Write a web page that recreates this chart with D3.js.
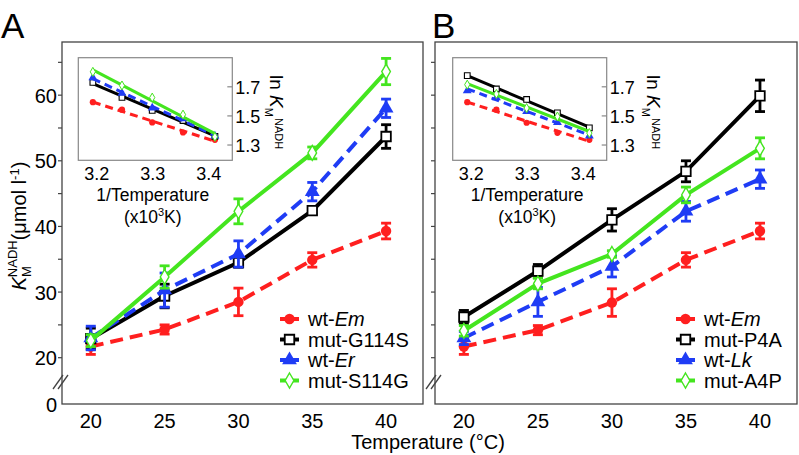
<!DOCTYPE html>
<html><head><meta charset="utf-8">
<script src="https://cdn.jsdelivr.net/npm/d3@7"></script>
<style>body{margin:0;background:#fff}svg{display:block;font-family:"Liberation Sans",Arial,sans-serif}</style>
</head><body><svg id="c" width="799" height="455"></svg>
<script>
// ---------- data ----------
const temps = [20, 25, 30, 35, 40];
const invTemps = [3.411, 3.354, 3.299, 3.245, 3.193];
const xTicks = [20, 25, 30, 35, 40];
const yTickLabels = [0, 20, 30, 40, 50, 60];
const yTicksAll = [20, 25, 30, 35, 40, 45, 50, 55, 60, 65];
const insetXTicks = [3.2, 3.3, 3.4];
const insetYTicks = [1.3, 1.5, 1.7];

// Panel A
const namesA = ["wt-Em", "mut-G114S", "wt-Er", "mut-S114G"];
const wtEmA = [21.7, 24.3, 28.5, 34.9, 39.3];
const wtEmAErr = [1.2, 0.7, 2.1, 1.1, 1.2];
const g114s = [22.9, 29.4, 34.5, 42.4, 53.7];
const g114sErr = [1.6, 1.8, 0.7, 0.5, 1.8];
const wtEr = [23.0, 30.3, 35.8, 45.3, 58.0];
const wtErErr = [1.8, 2.6, 2.0, 1.4, 1.4];
const s114g = [22.6, 32.3, 42.3, 51.2, 63.6];
const s114gErr = [0.9, 1.7, 1.9, 0.9, 2.0];
// inset A (log10 KM)
const lnWtEmA = [1.336, 1.386, 1.455, 1.543, 1.594];
const lnG114s = [1.360, 1.468, 1.538, 1.627, 1.730];
const lnWtEr = [1.362, 1.481, 1.555, 1.656, 1.763];
const lnS114g = [1.356, 1.509, 1.626, 1.709, 1.803];

// Panel B
const namesB = ["wt-Em", "mut-P4A", "wt-Lk", "mut-A4P"];
const wtEmB = [21.7, 24.2, 28.4, 34.9, 39.3];
const wtEmBErr = [1.2, 0.7, 2.1, 1.1, 1.2];
const p4a = [26.2, 33.2, 41.0, 48.4, 59.9];
const p4aErr = [1.0, 1.0, 1.7, 1.6, 2.4];
const wtLk = [23.0, 28.5, 33.9, 42.3, 47.2];
const wtLkErr = [1.0, 2.2, 1.6, 1.5, 1.4];
const a4p = [24.1, 31.3, 35.8, 44.8, 51.9];
const a4pErr = [0.8, 0.8, 0.5, 1.2, 1.6];
// inset B
const lnWtEmB = [1.336, 1.384, 1.453, 1.543, 1.594];
const lnP4a = [1.418, 1.521, 1.613, 1.685, 1.777];
const lnWtLk = [1.362, 1.455, 1.530, 1.626, 1.674];
const lnA4p = [1.382, 1.496, 1.554, 1.651, 1.715];

// ---------- styles ----------
const RED = "#ff1f1f", BLACK = "#000", BLUE = "#1f3cf5", GREEN = "#44e51f";
const styles = [
  {color: RED, dash: "13,7", marker: "circle"},
  {color: BLACK, dash: null, marker: "square"},
  {color: BLUE, dash: "13,7", marker: "triangle"},
  {color: GREEN, dash: null, marker: "diamond"}
];

const svg = d3.select("#c");
const FONT = 20;

function drawMarker(g, type, x, y, color, big) {
  const s = big ? 1 : 0.6;
  if (type === "circle") {
    g.append("circle").attr("cx", x).attr("cy", y).attr("r", 5.2 * s).attr("fill", color);
  } else if (type === "square") {
    g.append("path").attr("d", d3.symbol(d3.symbolSquare, 90 * s * s)())
      .attr("transform", `translate(${x},${y})`).attr("fill", "#fff").attr("stroke", color).attr("stroke-width", big ? 1.8 : 1.1);
  } else if (type === "triangle") {
    g.append("path").attr("d", d3.symbol(d3.symbolTriangle, 95 * s * s)())
      .attr("transform", `translate(${x},${y})`).attr("fill", color);
  } else {
    g.append("path").attr("d", d3.symbol(d3.symbolDiamond, 65 * s * s)())
      .attr("transform", `translate(${x},${y})`).attr("fill", "#fff").attr("stroke", color).attr("stroke-width", big ? 1.4 : 1);
  }
}

function legendLabel(t, name) {
  const m = name.match(/^(wt-)(.*)$/);
  if (m) {
    t.append("tspan").text(m[1]);
    t.append("tspan").attr("font-style", "italic").text(m[2]);
  } else t.text(name);
}

function panel(cfg) {
  const g = svg.append("g");
  const x = d3.scaleLinear().domain([18.05, 42.5]).range([cfg.left, cfg.right]);
  const y = d3.scaleLinear().domain([0, 20, 68.1]).range([404, 357.7, 42]);
  // frame
  g.append("rect").attr("x", cfg.left).attr("y", y(68.1)).attr("width", cfg.right - cfg.left)
    .attr("height", y(0) - y(68.1)).attr("fill", "none").attr("stroke", "#444").attr("stroke-width", 1.3);
  // y ticks
  yTicksAll.forEach(v => {
    g.append("line").attr("x1", cfg.left - 4).attr("x2", cfg.left).attr("y1", y(v)).attr("y2", y(v))
      .attr("stroke", "#444").attr("stroke-width", 1.2);
  });
  if (cfg.labels) {
    yTickLabels.forEach(v => {
      g.append("text").attr("x", cfg.left - 5).attr("y", y(v) + 7.5).attr("text-anchor", "end")
        .style("font-size", FONT + "px").text(v);
    });
  }
  // break
  [-9, -4].forEach(a => {
    g.append("line").attr("x1", cfg.left + a).attr("y1", 389).attr("x2", cfg.left + a + 10).attr("y2", 375)
      .attr("stroke", "#444").attr("stroke-width", 1.3);
  });
  // x tick labels
  xTicks.forEach(v => {
    g.append("text").attr("x", x(v)).attr("y", 428).attr("text-anchor", "middle")
      .style("font-size", FONT + "px").text(v);
  });
  // panel letter
  svg.append("text").attr("x", cfg.letterX).attr("y", 38).style("font-size", "35px").text(cfg.letter);

  // series
  cfg.series.forEach((s, i) => {
    const st = styles[i];
    const pts = temps.map((t, j) => [x(t), y(s.v[j])]);
    g.append("path").attr("d", d3.line()(pts)).attr("fill", "none").attr("stroke", st.color)
      .attr("stroke-width", 4).attr("stroke-dasharray", st.dash);
    temps.forEach((t, j) => {
      const cx = x(t), e = s.e[j];
      const y1 = y(s.v[j] + e), y2 = y(s.v[j] - e);
      g.append("line").attr("x1", cx).attr("x2", cx).attr("y1", y1).attr("y2", y2).attr("stroke", st.color).attr("stroke-width", 2.8);
      [y1, y2].forEach(yy => g.append("line").attr("x1", cx - 5).attr("x2", cx + 5).attr("y1", yy).attr("y2", yy)
        .attr("stroke", st.color).attr("stroke-width", 2.8));
      drawMarker(g, st.marker, cx, y(s.v[j]), st.color, true);
    });
  });

  // legend
  cfg.names.forEach((n, i) => {
    const st = styles[i];
    const ly = 319 + i * 20.5;
    g.append("line").attr("x1", cfg.legX).attr("x2", cfg.legX + 19).attr("y1", ly).attr("y2", ly)
      .attr("stroke", st.color).attr("stroke-width", 4);
    drawMarker(g, st.marker, cfg.legX + 9.5, ly, st.color, true);
    const t = g.append("text").attr("x", cfg.legX + 28).attr("y", ly + 7).style("font-size", FONT + "px");
    legendLabel(t, n);
  });

  // inset
  const ix = d3.scaleLinear().domain([3.167, 3.442]).range([cfg.insL, cfg.insL + 154]);
  const iy = d3.scaleLinear().domain([1.195, 1.9]).range([160.3, 57.7]);
  g.append("rect").attr("x", cfg.insL).attr("y", iy(1.9)).attr("width", 154).attr("height", iy(1.195) - iy(1.9))
    .attr("fill", "#fff").attr("stroke", "#888").attr("stroke-width", 1.2);
  insetYTicks.forEach(v => {
    g.append("line").attr("x1", ix(3.442) - 5).attr("x2", ix(3.442)).attr("y1", iy(v)).attr("y2", iy(v))
      .attr("stroke", "#888").attr("stroke-width", 1.2);
    g.append("text").attr("x", ix(3.442) + 3).attr("y", iy(v) + 7).style("font-size", "18px").text(v.toFixed(1));
  });
  insetXTicks.forEach(v => {
    g.append("text").attr("x", ix(v)).attr("y", 180).attr("text-anchor", "middle").style("font-size", "18px").text(v.toFixed(1));
  });
  const ixc = ix(3.3);
  g.append("text").attr("x", ixc).attr("y", 201).attr("text-anchor", "middle").style("font-size", "17.5px").text("1/Temperature");
  const t2 = g.append("text").attr("x", ixc).attr("y", 223).attr("text-anchor", "middle").style("font-size", "17.5px");
  t2.append("tspan").text("(x10");
  t2.append("tspan").attr("dy", -7).style("font-size", "11px").text("3");
  t2.append("tspan").attr("dy", 7).text("K)");
  // inset y label
  const yl = g.append("text").attr("transform", `translate(${cfg.insLabX},75) rotate(90)`).style("font-size", "19px");
  yl.append("tspan").text("ln ");
  yl.append("tspan").attr("font-style", "italic").text("K");
  yl.append("tspan").attr("dy", 5).style("font-size", "11px").text("M");
  yl.append("tspan").attr("dy", -10).attr("dx", 1).style("font-size", "11px").text("NADH");

  cfg.inset.forEach((vals, i) => {
    const st = styles[i];
    // least-squares fit line
    const n = vals.length;
    const mx = d3.mean(invTemps), my = d3.mean(vals);
    let sxy = 0, sxx = 0;
    for (let k = 0; k < n; k++) { sxy += (invTemps[k] - mx) * (vals[k] - my); sxx += (invTemps[k] - mx) ** 2; }
    const b = sxy / sxx, a = my - b * mx;
    const x0 = d3.min(invTemps), x1 = d3.max(invTemps);
    g.append("line").attr("x1", ix(x0)).attr("y1", iy(a + b * x0)).attr("x2", ix(x1)).attr("y2", iy(a + b * x1))
      .attr("stroke", st.color).attr("stroke-width", 3).attr("stroke-dasharray", st.dash ? "8,5" : null);
    invTemps.forEach((t, k) => drawMarker(g, st.marker, ix(t), iy(vals[k]), st.color, false));
  });
}

panel({left: 62, right: 423, labels: true, letter: "A", letterX: 1, legX: 280, insL: 78.3, insLabX: 270,
  names: namesA,
  series: [{v: wtEmA, e: wtEmAErr}, {v: g114s, e: g114sErr}, {v: wtEr, e: wtErErr}, {v: s114g, e: s114gErr}],
  inset: [lnWtEmA, lnG114s, lnWtEr, lnS114g]});
panel({left: 435, right: 797, labels: false, letter: "B", letterX: 432, legX: 676, insL: 452.7, insLabX: 647,
  names: namesB,
  series: [{v: wtEmB, e: wtEmBErr}, {v: p4a, e: p4aErr}, {v: wtLk, e: wtLkErr}, {v: a4p, e: a4pErr}],
  inset: [lnWtEmB, lnP4a, lnWtLk, lnA4p]});

// y-axis title
const yt = svg.append("text").attr("transform", "translate(26,226) rotate(-90)").attr("text-anchor", "middle").style("font-size", "20px");
yt.append("tspan").attr("font-style", "italic").text("K");
yt.append("tspan").attr("dy", 5).style("font-size", "13px").text("M");
yt.append("tspan").attr("dx", -11).attr("dy", -14).style("font-size", "13px").text("NADH");
yt.append("tspan").attr("dy", 9).text("(μmol l");
yt.append("tspan").attr("dy", -7).style("font-size", "13px").text("-1");
yt.append("tspan").attr("dy", 7).text(")");

// x-axis title
svg.append("text").attr("x", 428).attr("y", 449).attr("text-anchor", "middle").style("font-size", "20px").text("Temperature (°C)");
</script></body></html>
